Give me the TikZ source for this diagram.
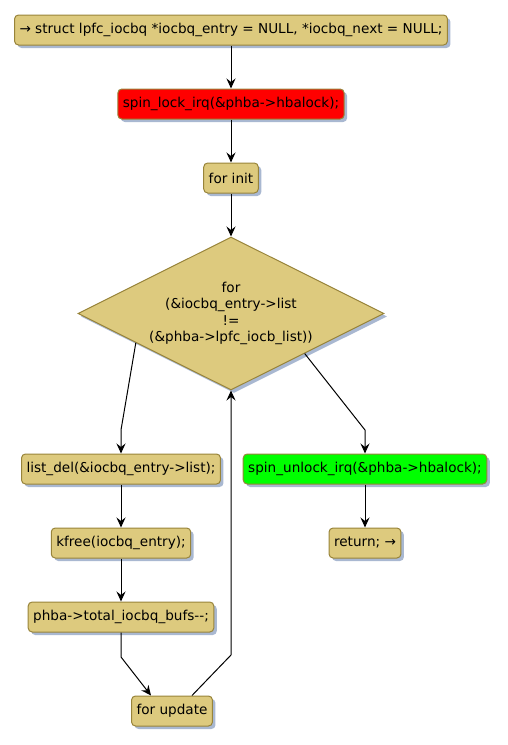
\documentclass[tikz,border=0pt]{standalone}
\usepackage{fontspec}
\setmainfont{DejaVu Sans}[Ligatures=NoCommon]
\usetikzlibrary{shapes.geometric,shadows,arrows.meta,calc}
\definecolor{boxfill}{RGB}{221,202,126}
\definecolor{boxline}{RGB}{152,132,58}
\definecolor{shadowc}{RGB}{160,176,204}
\definecolor{redfill}{RGB}{255,0,0}
\definecolor{greenfill}{RGB}{0,255,0}
\tikzset{
  every node/.style={font=\fontsize{13.6}{16.5}\selectfont},
  act/.style={draw=boxline, fill=boxfill, line width=1pt, rounded corners=4pt,
    minimum height=30pt, inner xsep=5pt, inner ysep=0pt,
    drop shadow={shadow xshift=3pt, shadow yshift=-3pt, fill=shadowc, opacity=0.9}},
  cond/.style={diamond, draw=boxline, fill=boxfill, line width=1pt, aspect=2,
    inner sep=0pt, minimum width=306pt, minimum height=153pt, align=center,
    drop shadow={shadow xshift=3pt, shadow yshift=-3pt, fill=shadowc, opacity=0.9}},
  flow/.style={line width=1pt, -{Stealth[length=10pt,width=9pt,inset=3.5pt]}},
  plain/.style={line width=1pt}
}
\begin{document}
\begin{tikzpicture}[x=1pt,y=-1pt]
\useasboundingbox (0,0) rectangle (508,745);
\node[act] (decl) at (231,30) {→ struct lpfc\_iocbq *iocbq\_entry = NULL, *iocbq\_next = NULL;};
\node[act, fill=redfill] (lock) at (231,104) {spin\_lock\_irq(\&phba->hbalock);};
\node[act] (init) at (231,178) {for init};
\node[cond] (loop) at (231,313.5) {for\\(\&iocbq\_entry->list\\!=\\(\&phba->lpfc\_iocb\_list))};
\node[act] (del) at (121,469) {list\_del(\&iocbq\_entry->list);};
\node[act] (kf) at (121,543) {kfree(iocbq\_entry);};
\node[act] (tot) at (121,617) {phba->total\_iocbq\_bufs-{}-;};
\node[act] (upd) at (172,711) {for update};
\node[act, fill=greenfill] (unl) at (365,469) {spin\_unlock\_irq(\&phba->hbalock);};
\node[act] (ret) at (365,543) {return; →};

\coordinate (lbend) at (121,430);
\coordinate (rbend) at (365,430);
\coordinate (tbend) at (121,657);
\coordinate (ubend) at (231,655);

\draw[flow] (decl) -- (lock);
\draw[flow] (lock) -- (init);
\draw[flow] (init) -- (loop.north);
\draw[flow] ($(loop.west)!0.38!(loop.south)$) -- (lbend) -- (del.north);
\draw[flow] ($(loop.east)!0.52!(loop.south)$) -- (rbend) -- (unl.north);
\draw[flow] (del) -- (kf);
\draw[flow] (kf) -- (tot);
\draw[flow] (tot.south) -- (tbend) -- ($(upd.north)+(-21,0)$);
\draw[flow] ($(upd.north)+(20,0)$) -- (ubend) -- (loop.south);
\draw[flow] (unl) -- (ret);
\end{tikzpicture}
\end{document}
